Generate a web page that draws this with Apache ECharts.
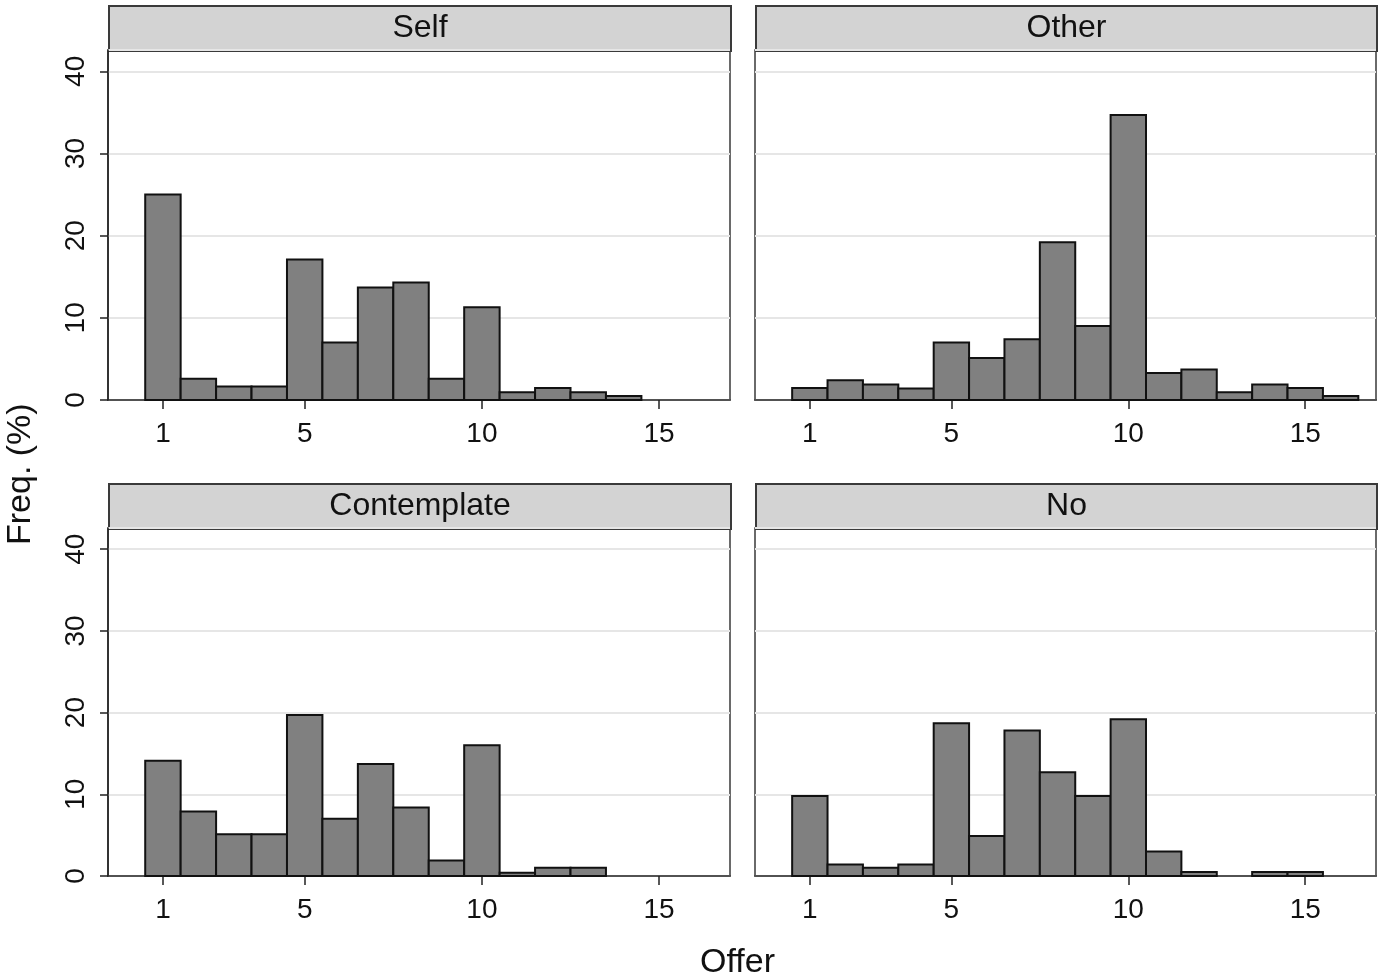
<!DOCTYPE html>
<html>
<head>
<meta charset="utf-8">
<script src="https://cdn.jsdelivr.net/npm/echarts@6/dist/echarts.min.js"></script>
<style>html,body{margin:0;padding:0;background:#fff;}#chart{width:1381px;height:980px;}</style>
</head>
<body>
<div id="chart"></div>
<script>
const offers = [1, 2, 3, 4, 5, 6, 7, 8, 9, 10, 11, 12, 13, 14, 15, 16];
const selfVals = [25.0, 2.6, 1.65, 1.65, 17.1, 7.0, 13.7, 14.3, 2.6, 11.3, 0.95, 1.45, 0.95, 0.5, null, null];
const otherVals = [1.45, 2.4, 1.9, 1.4, 7.0, 5.1, 7.4, 19.2, 9.0, 34.7, 3.3, 3.7, 0.95, 1.9, 1.45, 0.5];
const contemplateVals = [14.1, 7.9, 5.1, 5.1, 19.7, 7.0, 13.7, 8.4, 1.9, 16.0, 0.4, 1.0, 1.0, null, null, null];
const noVals = [9.8, 1.4, 1.0, 1.4, 18.7, 4.9, 17.8, 12.7, 9.8, 19.2, 3.0, 0.5, null, 0.5, 0.5, null];
const panelTitles = ['Self', 'Other', 'Contemplate', 'No'];
const xTickValues = [1, 5, 10, 15];
const yTickLabels = ['0', '10', '20', '30', '40'];

const panelVals = [selfVals, otherVals, contemplateVals, noVals];
const layout = [
  {left: 108, top: 50, width: 622, height: 350, showY: true},
  {left: 755, top: 50, width: 621, height: 350, showY: false},
  {left: 108, top: 528, width: 622, height: 348, showY: true},
  {left: 755, top: 528, width: 621, height: 348, showY: false}
];
const FONT = '"Liberation Sans", Arial, Helvetica, sans-serif';

const grids = [], xAxes = [], yAxes = [], series = [], graphics = [];
layout.forEach((g, i) => {
  grids.push({left: g.left, top: g.top, width: g.width, height: g.height,
    show: true, borderColor: '#3a3a3a', borderWidth: 1.5, backgroundColor: '#fff'});
  xAxes.push({
    type: 'value', gridIndex: i, min: -0.55, max: 17,
    axisLine: {show: true, onZero: false, lineStyle: {color: '#222', width: 1.5}},
    axisTick: {show: true, customValues: xTickValues, length: 9, lineStyle: {color: '#222', width: 1.5}},
    axisLabel: {show: true, customValues: xTickValues, margin: 20, fontSize: 28, color: '#111', fontFamily: FONT},
    splitLine: {show: false}
  });
  yAxes.push({
    type: 'value', gridIndex: i, min: 0, max: 42.6, interval: 10,
    axisLine: {show: g.showY, onZero: false, lineStyle: {color: '#222', width: 1.5}},
    axisTick: {show: g.showY, length: 8, lineStyle: {color: '#222', width: 1.5}},
    axisLabel: {show: g.showY, rotate: 90, margin: 18, fontSize: 28, color: '#111', fontFamily: FONT,
      formatter: v => { const k = Math.round(v / 10); return yTickLabels[k] !== undefined ? yTickLabels[k] : ''; }},
    splitLine: {show: true, lineStyle: {color: '#e6e6e6', width: 2}}
  });
  const data = [];
  offers.forEach((x, j) => { if (panelVals[i][j] != null) data.push([x, panelVals[i][j]]); });
  series.push({
    type: 'custom', xAxisIndex: i, yAxisIndex: i, data: data,
    renderItem: (params, api) => {
      const x = api.value(0), v = api.value(1);
      const p0 = api.coord([x - 0.5, v]);
      const p1 = api.coord([x + 0.5, 0]);
      return {type: 'rect', shape: {x: p0[0], y: p0[1], width: p1[0] - p0[0], height: p1[1] - p0[1]},
        style: {fill: '#808080', stroke: '#111', lineWidth: 2}};
    }
  });
  graphics.push({
    type: 'rect', left: g.left, top: g.top - 45,
    shape: {width: g.width, height: 45},
    style: {fill: '#d3d3d3', stroke: '#3a3a3a', lineWidth: 2},
    textContent: {style: {text: panelTitles[i], font: '32px ' + FONT, fill: '#111'}},
    textConfig: {position: 'inside'}
  });
});
graphics.push({type: 'text', left: 700, top: 946, style: {text: 'Offer', font: '34px ' + FONT, fill: '#111'}});
graphics.push({type: 'text', x: 4, y: 545, rotation: Math.PI / 2,
  style: {text: 'Freq. (%)', font: '34px ' + FONT, fill: '#111', textVerticalAlign: 'top'}});

const chart = echarts.init(document.getElementById('chart'));
chart.setOption({
  animation: false,
  grid: grids, xAxis: xAxes, yAxis: yAxes, series: series, graphic: graphics
});
</script>
</body>
</html>
